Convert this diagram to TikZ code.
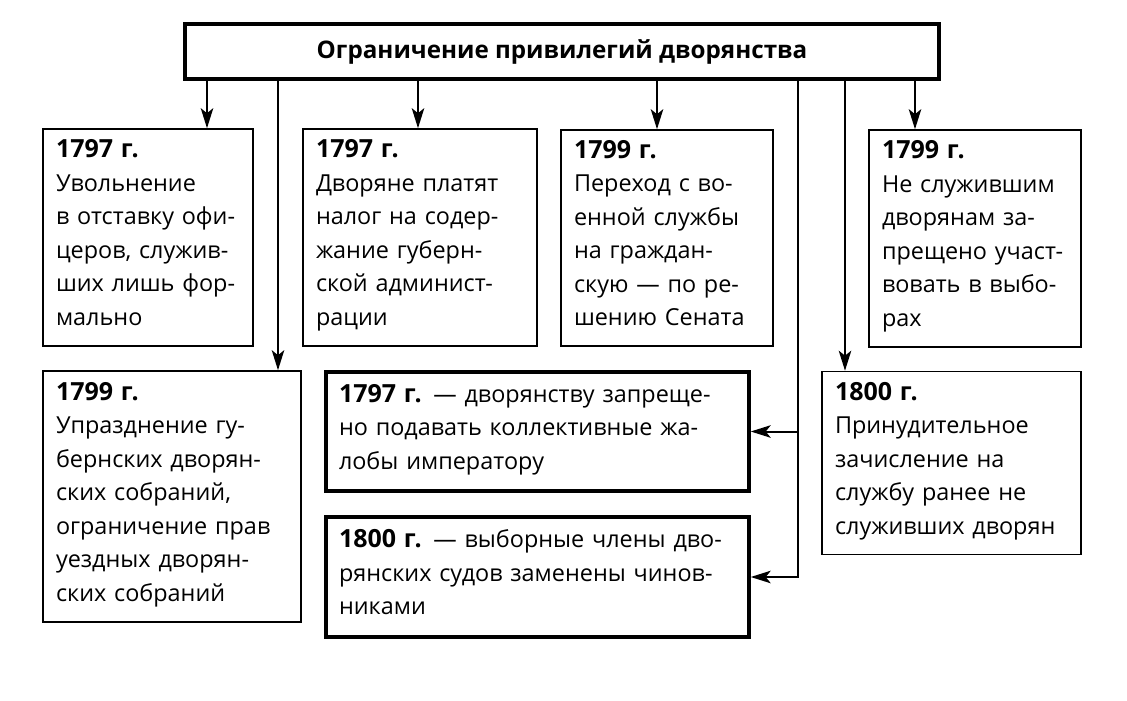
\documentclass[tikz,border=0pt]{standalone}
\usepackage{fontspec}
\setmainfont{Open Sans}
\usetikzlibrary{arrows.meta}
\newcommand{\yr}[1]{{\fontsize{25}{33}\selectfont\bfseries #1}}
\newcommand{\LL}[1]{\mbox{#1}}
\begin{document}
\begin{tikzpicture}[x=1pt,y=-1pt,
  box/.style={draw, line width=1.6pt, rectangle, align=left, inner xsep=13pt, inner ysep=0pt,
    font=\fontsize{23.4}{33.5}\selectfont, anchor=center},
  thickbox/.style={box, line width=3.4pt},
  arr/.style={line width=2pt, -{Stealth[length=20pt,width=12.5pt,inset=5pt]}}]
\fill[white] (0,0) rectangle (1127,701);
\useasboundingbox (0,0) rectangle (1127,701);

\node[draw, line width=3.5pt, minimum width=754pt, minimum height=55pt, inner sep=0pt,
  font=\fontsize{24.2}{26}\selectfont\bfseries] (T) at (562,51.5) {Ограничение привилегий дворянства};

\node[box, text width=184pt, minimum height=217pt] (B1) at (148,237.5)
  {\yr{1797 г.}\\\LL{Увольнение}\\\LL{в отставку офи-}\\\LL{церов, служив-}\\\LL{ших лишь фор-}\\\LL{мально\strut}};
\node[box, text width=208pt, minimum height=217pt] (B2) at (420,237.5)
  {\yr{1797 г.}\\\LL{Дворяне платят}\\\LL{налог на содер-}\\\LL{жание губерн-}\\\LL{ской админист-}\\\LL{рации\strut}};
\node[box, text width=186pt, minimum height=216pt] (B3) at (667,238)
  {\yr{1799 г.}\\\LL{Переход с во-}\\\LL{енной службы}\\\LL{на граждан-}\\\LL{скую — по ре-}\\\LL{шению Сената\strut}};
\node[box, text width=186pt, minimum height=217pt] (B5) at (975,238.5)
  {\yr{1799 г.}\\\LL{Не служившим}\\\LL{дворянам за-}\\\LL{прещено участ-}\\\LL{вовать в выбо-}\\\LL{рах\strut}};
\node[box, text width=232pt, minimum height=251pt] (B4) at (172,496.5)
  {\yr{1799 г.}\\\LL{Упразднение гу-}\\\LL{бернских дворян-}\\\LL{ских собраний,}\\\LL{ограничение прав}\\\LL{уездных дворян-}\\\LL{ских собраний\strut}};
\node[thickbox, text width=397pt, minimum height=119pt] (B6) at (537.5,431.5)
  {\LL{\yr{1797 г.} — дворянству запреще-}\\\LL{но подавать коллективные жа-}\\\LL{лобы императору\strut}};
\node[thickbox, text width=397pt, minimum height=120pt] (B7) at (537.5,577)
  {\LL{\yr{1800 г.} — выборные члены дво-}\\\LL{рянских судов заменены чинов-}\\\LL{никами\strut}};
\node[box, text width=233pt, minimum height=183pt] (B8) at (951.5,463)
  {\yr{1800 г.}\\\LL{Принудительное}\\\LL{зачисление на}\\\LL{службу ранее не}\\\LL{служивших дворян\strut}};

\coordinate (c1) at (207,0);
\coordinate (c2) at (278,0);
\coordinate (c3) at (418,0);
\coordinate (c4) at (657,0);
\coordinate (c5) at (798,0);
\coordinate (c6) at (845,0);
\coordinate (c7) at (915,0);

\draw[arr] (T.south -| c1) -- (B1.north -| c1);
\draw[arr] (T.south -| c2) -- (B4.north -| c2);
\draw[arr] (T.south -| c3) -- (B2.north -| c3);
\draw[arr] (T.south -| c4) -- (B3.north -| c4);
\draw[arr] (T.south -| c5) |- (B7.east);
\draw[arr] (B6.east -| c5) -- (B6.east);
\draw[arr] (T.south -| c6) -- (B8.north -| c6);
\draw[arr] (T.south -| c7) -- (B5.north -| c7);
\end{tikzpicture}
\end{document}
